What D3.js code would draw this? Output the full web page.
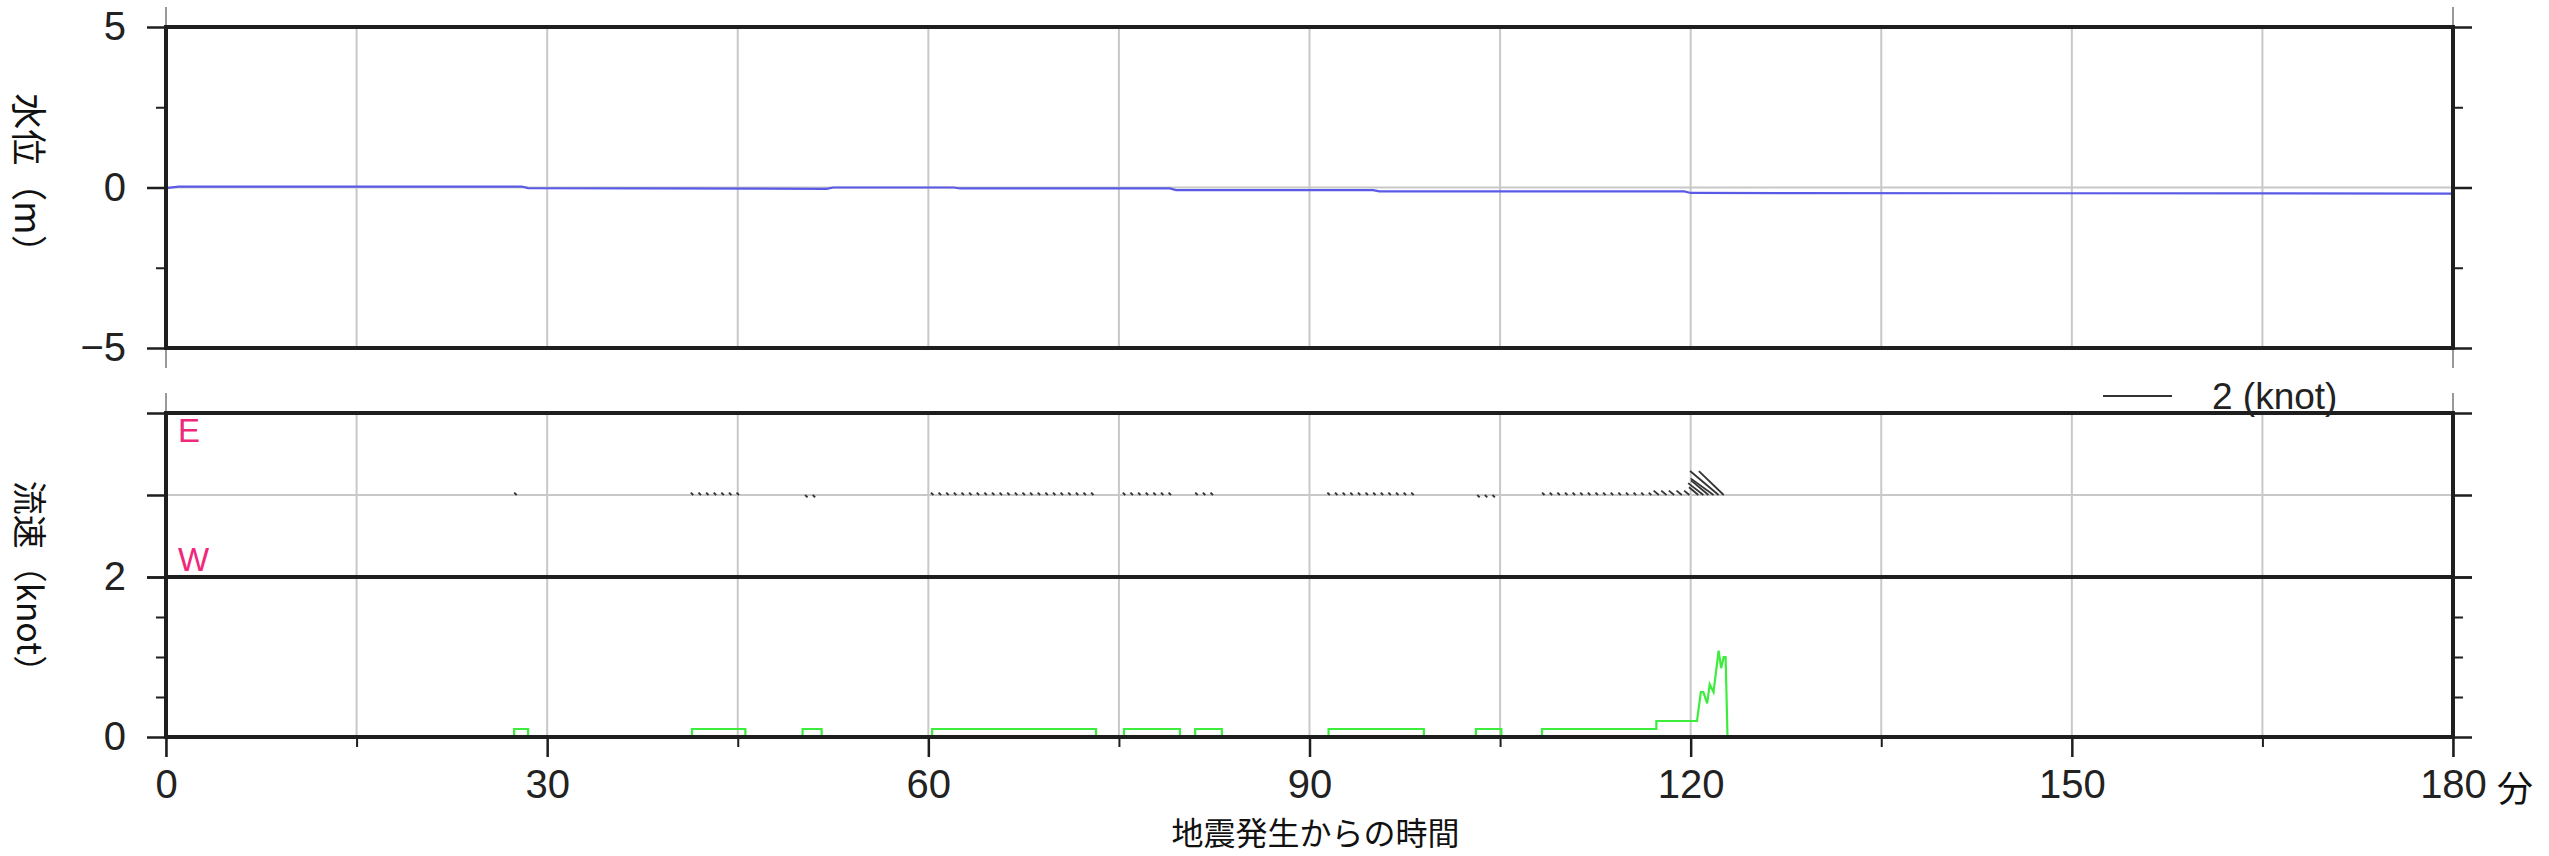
<!DOCTYPE html>
<html>
<head>
<meta charset="utf-8">
<script src="https://cdn.jsdelivr.net/npm/d3@7"></script>
<style>
  html, body { margin: 0; padding: 0; background: #fff; }
  svg { display: block; }
</style>
</head>
<body>
<div id="chart"></div>
<script>
// time axis (minutes after the earthquake)
const timeMajor = [0, 30, 60, 90, 120, 150, 180];
const timeGrid = [0, 15, 30, 45, 60, 75, 90, 105, 120, 135, 150, 165, 180];

// water level (m)
const levelTime = [0, 1, 28, 28.5, 52, 52.5, 62, 62.5, 79, 79.5, 95, 95.5, 119.5, 120, 180];
const levelValue = [-0.02, 0.03, 0.03, -0.02, -0.04, 0.0, 0.0, -0.03, -0.03, -0.08, -0.08, -0.12, -0.12, -0.17, -0.19];

// current speed (knot), green line
const speedTime = [0, 27.4, 27.4, 28.5, 28.5, 41.4, 41.4, 45.6, 45.6, 50.1, 50.1, 51.6, 51.6, 60.3, 60.3, 73.2, 73.2,
  75.4, 75.4, 79.8, 79.8, 81.0, 81.0, 83.1, 83.1, 91.5, 91.5, 99.0, 99.0, 103.1, 103.1, 105.1, 105.1, 108.3, 108.3,
  117.3, 117.3, 120.5, 120.8, 121.0, 121.3, 121.5, 121.8, 122.0, 122.2, 122.4, 122.6, 122.75, 122.9, 180];
const speedKnot = [0, 0, 0.1, 0.1, 0, 0, 0.1, 0.1, 0, 0, 0.1, 0.1, 0, 0, 0.1, 0.1, 0,
  0, 0.1, 0.1, 0, 0, 0.1, 0.1, 0, 0, 0.1, 0.1, 0, 0, 0.1, 0.1, 0, 0, 0.1,
  0.1, 0.2, 0.2, 0.56, 0.56, 0.42, 0.66, 0.56, 0.82, 1.08, 0.86, 1.0, 1.0, 0, 0];

// current vectors (sticks): spans of steady flow, one stick every vecStep minutes
const vecStep = 0.6;
const vecStart = [27.6, 41.5, 50.3, 60.4, 75.5, 81.2, 91.6, 103.2, 108.5, 117.5];
const vecEnd = [27.6, 45.3, 51.1, 73.0, 79.6, 82.8, 98.6, 104.9, 117.0, 120.0];
const vecKnot = [0.1, 0.1, 0.1, 0.1, 0.1, 0.1, 0.1, 0.1, 0.1, 0.2];
const vecDir = [135, 135, 315, 135, 135, 135, 135, 315, 135, 140];
// sticks of the surge
const peakTime = [120.6, 121.0, 121.4, 121.8, 122.2, 122.6];
const peakKnot = [0.35, 0.56, 0.66, 0.82, 1.08, 1.0];
const peakDir = [140, 142, 140, 144, 140, 136];

const W = 2549, H = 856;
const svg = d3.select('#chart').append('svg')
  .attr('width', W).attr('height', H)
  .style('background', '#fff');

const sans = '"Liberation Sans", Arial, Helvetica, sans-serif';
const cjk = '"Noto Sans CJK JP", "Noto Sans", sans-serif';
const frameColor = '#1e1e1e';
const gridColor = '#c8c8c8';

const x = d3.scaleLinear().domain([0, 180]).range([166, 2453]);

// panels
const pTop = { top: 27, bottom: 348 };
const pMid = { top: 413, bottom: 577 };
const pBot = { top: 577, bottom: 737 };

const yLevel = d3.scaleLinear().domain([-5, 5]).range([pTop.bottom, pTop.top]);
const yMid = d3.scaleLinear().domain([-1, 1]).range([pMid.bottom, pMid.top]);
const ySpeed = d3.scaleLinear().domain([0, 2]).range([pBot.bottom, pBot.top]);
const vecLen = d3.scaleLinear().domain([0, 2]).range([0, 69]);

const minus = d => d < 0 ? '\u2212' + Math.abs(d) : String(d);

function styleAxis(g, color, width) {
  g.select('.domain').remove();
  g.selectAll('line').attr('stroke', color).attr('stroke-width', width);
  g.selectAll('text')
    .style('font-family', sans)
    .style('font-size', '40px')
    .attr('fill', '#222');
}

// vertical grid lines and panel grid
function grid(p) {
  svg.append('g').selectAll('line')
    .data(timeGrid)
    .enter()
    .append('line')
    .attr('x1', d => x(d)).attr('x2', d => x(d))
    .attr('y1', p.top).attr('y2', p.bottom)
    .attr('stroke', gridColor)
    .attr('stroke-width', 2);
  // small gray overshoot at the corners
  [p.top - 20, p.bottom].forEach(y0 => {
    svg.append('g').selectAll('line')
      .data([0, 180])
      .enter()
      .append('line')
      .attr('x1', d => x(d)).attr('x2', d => x(d))
      .attr('y1', y0).attr('y2', y0 + 20)
      .attr('stroke', '#999')
      .attr('stroke-width', 2);
  });
}
grid(pTop);
grid(pMid);
grid(pBot);

// horizontal grid lines
svg.append('line')
  .attr('x1', x(0)).attr('x2', x(180))
  .attr('y1', yLevel(0)).attr('y2', yLevel(0))
  .attr('stroke', gridColor).attr('stroke-width', 2);
svg.append('line')
  .attr('x1', x(0)).attr('x2', x(180))
  .attr('y1', yMid(0)).attr('y2', yMid(0))
  .attr('stroke', gridColor).attr('stroke-width', 2);

// water level line
const levelData = levelTime.map((t, i) => [t, levelValue[i]]);
svg.append('path')
  .datum(levelData)
  .attr('fill', 'none')
  .attr('stroke', '#5a5ae6')
  .attr('stroke-width', 2.2)
  .attr('d', d3.line().x(d => x(d[0])).y(d => yLevel(d[1])));

// speed line
const speedData = speedTime.map((t, i) => [t, speedKnot[i]]);
svg.append('path')
  .datum(speedData)
  .attr('fill', 'none')
  .attr('stroke', '#3ded3d')
  .attr('stroke-width', 2.2)
  .attr('d', d3.line().x(d => x(d[0])).y(d => ySpeed(d[1])));

// current sticks
const sticks = [];
vecStart.forEach((s, i) => {
  for (let t = s; t <= vecEnd[i] + 1e-6; t += vecStep) {
    sticks.push({ t: t, knot: vecKnot[i], dir: vecDir[i] });
  }
});
peakTime.forEach((t, i) => sticks.push({ t: t, knot: peakKnot[i], dir: peakDir[i] }));

svg.append('g').selectAll('line')
  .data(sticks)
  .enter()
  .append('line')
  .attr('x1', d => x(d.t))
  .attr('y1', yMid(0))
  .attr('x2', d => x(d.t) + vecLen(d.knot) * Math.cos(d.dir * Math.PI / 180))
  .attr('y2', d => yMid(0) - vecLen(d.knot) * Math.sin(d.dir * Math.PI / 180))
  .attr('stroke', '#333')
  .attr('stroke-width', 1.8);

// left / right axes
function yAxes(scale, major, minor, labels) {
  const gl = svg.append('g').attr('transform', `translate(${x(0)},0)`)
    .call(d3.axisLeft(scale).tickValues(major).tickSize(19).tickPadding(21)
      .tickFormat(labels ? minus : ''));
  styleAxis(gl, frameColor, 2.5);
  if (minor.length) {
    const gm = svg.append('g').attr('transform', `translate(${x(0)},0)`)
      .call(d3.axisLeft(scale).tickValues(minor).tickSize(10).tickFormat(''));
    styleAxis(gm, frameColor, 2);
    const rm = svg.append('g').attr('transform', `translate(${x(180)},0)`)
      .call(d3.axisRight(scale).tickValues(minor).tickSize(10).tickFormat(''));
    styleAxis(rm, frameColor, 2);
  }
  const gr = svg.append('g').attr('transform', `translate(${x(180)},0)`)
    .call(d3.axisRight(scale).tickValues(major).tickSize(19).tickFormat(''));
  styleAxis(gr, frameColor, 2.5);
}
yAxes(yLevel, [-5, 0, 5], [-2.5, 2.5], true);
yAxes(yMid, [-1, 0, 1], [], false);
yAxes(ySpeed, [0, 2], [0.5, 1, 1.5], true);

// bottom time axis
const gx = svg.append('g').attr('transform', `translate(0,${pBot.bottom})`)
  .call(d3.axisBottom(x).tickValues(timeMajor).tickSize(20).tickPadding(13));
styleAxis(gx, frameColor, 2.5);
const gxm = svg.append('g').attr('transform', `translate(0,${pBot.bottom})`)
  .call(d3.axisBottom(x).tickValues(timeGrid.filter(d => d % 30 !== 0)).tickSize(10).tickFormat(''));
styleAxis(gxm, frameColor, 2);

// frames
[pTop, pMid, pBot].forEach(p => {
  svg.append('rect')
    .attr('x', x(0)).attr('y', p.top)
    .attr('width', x(180) - x(0)).attr('height', p.bottom - p.top)
    .attr('fill', 'none')
    .attr('stroke', frameColor)
    .attr('stroke-width', 4);
});

// E / W markers
svg.append('text')
  .attr('x', 178).attr('y', 442)
  .style('font-family', sans).style('font-size', '33px')
  .attr('fill', '#f0287a')
  .text('E');
svg.append('text')
  .attr('x', 178).attr('y', 571)
  .style('font-family', sans).style('font-size', '33px')
  .attr('fill', '#f0287a')
  .text('W');

// vector legend
svg.append('line')
  .attr('x1', 2103).attr('x2', 2103 + vecLen(2))
  .attr('y1', 396).attr('y2', 396)
  .attr('stroke', '#333').attr('stroke-width', 2);
svg.append('text')
  .attr('x', 2212).attr('y', 396)
  .attr('dominant-baseline', 'central')
  .style('font-family', sans).style('font-size', '37px')
  .attr('fill', '#222')
  .text('2 (knot)');

// axis titles
svg.append('text')
  .attr('transform', `translate(31,182) rotate(90)`)
  .attr('text-anchor', 'middle')
  .attr('dominant-baseline', 'central')
  .style('font-family', cjk).style('font-size', '36px')
  .attr('fill', '#111')
  .text('水位（m）');
svg.append('text')
  .attr('transform', `translate(31,${pMid.bottom + 8}) rotate(90)`)
  .attr('text-anchor', 'middle')
  .attr('dominant-baseline', 'central')
  .style('font-family', cjk).style('font-size', '34px')
  .attr('fill', '#111')
  .text('流速（knot）');

svg.append('text')
  .attr('x', 2497).attr('y', 786)
  .attr('dominant-baseline', 'central')
  .style('font-family', cjk).style('font-size', '36px')
  .attr('fill', '#111')
  .text('分');
svg.append('text')
  .attr('x', (x(0) + x(180)) / 2 + 6).attr('y', 845)
  .attr('text-anchor', 'middle')
  .style('font-family', cjk).style('font-size', '32px')
  .attr('fill', '#111')
  .text('地震発生からの時間');
</script>
</body>
</html>
